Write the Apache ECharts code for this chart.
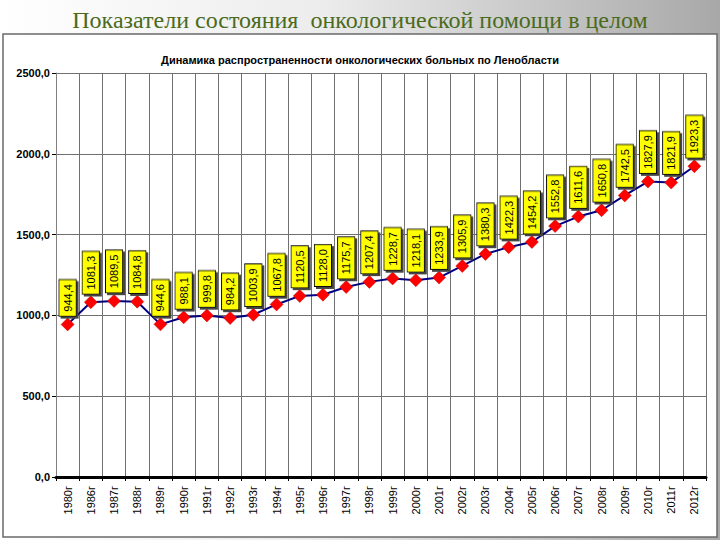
<!DOCTYPE html>
<html>
<head>
<meta charset="utf-8">
<script src="https://cdn.jsdelivr.net/npm/echarts@6/dist/echarts.min.js"></script>
<style>
html,body{margin:0;padding:0;background:#fff;}
#chart{width:720px;height:540px;}
</style>
</head>
<body>
<div id="chart"></div>
<script>
var mainTitle = 'Показатели состояния  онкологической помощи в целом';
var subTitle = 'Динамика распространенности онкологических больных по Ленобласти';
var categories = ['1980г','1986г','1987г','1988г','1989г','1990г','1991г','1992г','1993г','1994г','1995г','1996г','1997г','1998г','1999г','2000г','2001г','2002г','2003г','2004г','2005г','2006г','2007г','2008г','2009г','2010г','2011г','2012г'];
var values = [944.4,1081.3,1089.5,1084.8,944.6,988.1,999.8,984.2,1003.9,1067.8,1120.5,1128.0,1175.7,1207.4,1228.7,1218.1,1233.9,1305.9,1380.3,1422.3,1454.2,1552.8,1611.6,1650.8,1742.5,1827.9,1821.9,1923.3];
var yTicks = [0,500,1000,1500,2000,2500];

function fmt(v){ return Number(v).toFixed(1).replace('.', ','); }

var chart = echarts.init(document.getElementById('chart'), null, {renderer:'svg'});
chart.setOption({
  animation:false,
  backgroundColor:{type:'linear',x:0,y:0,x2:1,y2:0,colorStops:[{offset:0,color:'#ffffff'},{offset:0.45,color:'#ececec'},{offset:1,color:'#a8a8a8'}]},
  graphic:[
    {type:'rect',z:-1,shape:{x:3,y:34,width:714,height:503},style:{fill:'#ffffff',stroke:'#6a6a6a',lineWidth:1.5}}
  ],
  title:[
    {text:mainTitle,left:'center',top:3,textStyle:{fontFamily:'Liberation Serif',fontSize:24,fontWeight:'normal',color:'#4a6a1c'}},
    {text:subTitle,left:'center',top:49,textStyle:{fontFamily:'Liberation Sans',fontSize:11,fontWeight:'bold',color:'#000'}}
  ],
  grid:{left:56,right:14,top:73,bottom:63},
  xAxis:{
    type:'category',data:categories,boundaryGap:true,
    axisLine:{show:true,lineStyle:{color:'#000',width:3}},
    axisTick:{show:true,length:4,lineStyle:{color:'#000',width:1}},
    splitLine:{show:true,interval:0,lineStyle:{color:'#707070',width:1}},
    axisLabel:{interval:0,rotate:90,margin:9,fontFamily:'Liberation Sans',fontSize:11,color:'#000'}
  },
  yAxis:{
    type:'value',min:0,max:2500,interval:500,
    axisLine:{show:true,lineStyle:{color:'#808080',width:1}},
    axisTick:{show:true,length:4,lineStyle:{color:'#000'}},
    splitLine:{show:true,lineStyle:{color:'#707070',width:1}},
    axisLabel:{formatter:function(v){return fmt(v);},fontFamily:'Liberation Sans',fontSize:11,fontWeight:'bold',color:'#000',margin:6}
  },
  series:[{
    type:'line',data:values,
    lineStyle:{color:'#000080',width:2},
    symbol:'diamond',symbolSize:13,
    itemStyle:{color:'#ff0000',borderColor:'#cc0000',borderWidth:0.5},
    label:{
      show:true,position:'top',distance:2,rotate:90,align:'left',verticalAlign:'middle',
      formatter:function(p){return fmt(p.value);},
      fontFamily:'Liberation Sans',fontSize:11,color:'#000',
      backgroundColor:'#ffff00',borderColor:'#000',borderWidth:1,padding:[3,4,2,4],
      shadowColor:'#444',shadowOffsetX:-2,shadowOffsetY:2,shadowBlur:0
    },
    z:5
  }]
});
</script>
</body>
</html>
